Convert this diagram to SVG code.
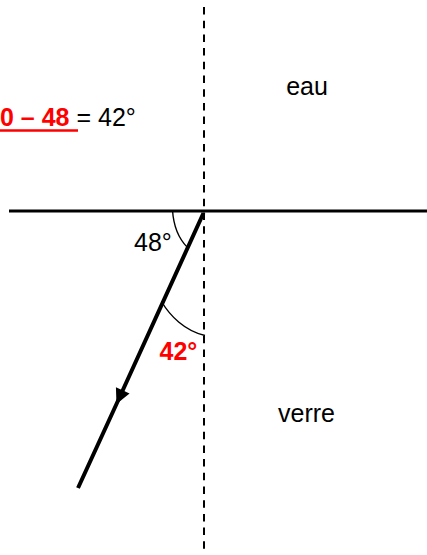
<svg xmlns="http://www.w3.org/2000/svg" width="427" height="555" viewBox="0 0 427 555">
  <style>
    .t { font-family: "Liberation Sans", Arial, sans-serif; font-size: 25px; fill: #000; }
    .red { fill: #ff0000; font-weight: bold; }
    .arc { fill: none; stroke: #000; stroke-width: 1.4; }
  </style>
  <defs>
    <marker id="arrow" viewBox="-16 -8 17 16" markerWidth="17" markerHeight="16" refX="0" refY="0" orient="auto" markerUnits="userSpaceOnUse">
      <path d="M0,0 L-15,-7.5 L-15,7.5 Z" fill="#000"/>
    </marker>
  </defs>
  <rect width="427" height="555" fill="#fff"/>

  <g id="connectors">
    <line id="normal" x1="204" y1="7" x2="204" y2="555" stroke="#000" stroke-width="2" stroke-dasharray="7.5 6.2"/>
    <line id="interface" x1="9" y1="211" x2="427" y2="211" stroke="#000" stroke-width="3"/>
    <path id="ray" d="M203.5,213 L116.5,404 L78,488" fill="none" stroke="#000" stroke-width="4" marker-mid="url(#arrow)"/>
  </g>

  <g id="angle48">
    <path class="arc" d="M172.5,210 C173.5,226 178,238 187.5,247.5"/>
    <text class="t" x="134" y="251">48°</text>
  </g>

  <g id="angle42">
    <path class="arc" d="M161.5,301.5 C170,316 185,331 205,335.5"/>
    <text class="t red" x="159.5" y="360">42°</text>
  </g>

  <g id="formula">
    <text class="t" x="0" y="126"><tspan class="red">0 – 48 </tspan><tspan>= 42°</tspan></text>
    <line x1="0" y1="130.5" x2="78" y2="130.5" stroke="#ff0000" stroke-width="2.4"/>
  </g>

  <g id="eau">
    <text class="t" x="307" y="95" text-anchor="middle">eau</text>
  </g>

  <g id="verre">
    <text class="t" x="306.5" y="421.5" text-anchor="middle">verre</text>
  </g>
</svg>
